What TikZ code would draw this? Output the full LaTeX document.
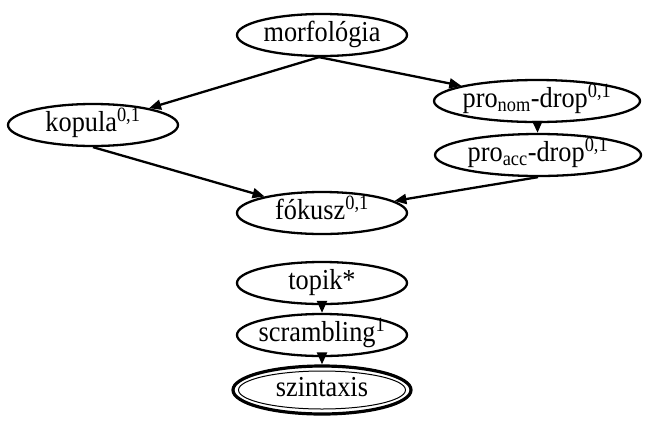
\documentclass[tikz,border=0pt]{standalone}
\usepackage{fontspec}
\usepackage{graphicx}
\setmainfont{Liberation Serif}
\usetikzlibrary{arrows.meta,shapes.geometric}
\newcommand{\tall}[1]{\makebox[0pt]{\raisebox{-6.5pt}[0pt][0pt]{\scalebox{1}[1.1]{#1}}}}
\begin{document}
\begin{tikzpicture}[x=1pt,y=-1pt,
  nd/.style={ellipse,draw,line width=2.3pt,inner sep=0pt,minimum width=170pt,minimum height=42pt,font=\fontsize{26.3}{26.3}\selectfont},
  wide/.style={minimum width=206pt},
  arr/.style={line width=2.3pt,-{Triangle[length=12pt,width=10pt]}}]
\useasboundingbox (0,0) rectangle (645,421);
\node[nd] (morf) at (322,35) {\tall{morfológia}};
\node[nd] (kop) at (93,125) {\tall{kopula\textsuperscript{0,1}}};
\node[nd,wide] (pnom) at (537,101) {\tall{pro\textsubscript{nom}-drop\textsuperscript{0,1}}};
\node[nd,wide] (pacc) at (538,155) {\tall{pro\textsubscript{acc}-drop\textsuperscript{0,1}}};
\node[nd] (fok) at (322,213) {\tall{fókusz\textsuperscript{0,1}}};
\node[nd] (top) at (322,283) {\tall{topik*}};
\node[nd] (scr) at (322,335) {\tall{scrambling\textsuperscript{1}}};
\node[nd,line width=3.2pt,minimum width=178pt,minimum height=48pt] (szi) at (322,390) {\tall{szintaxis}};
\node[ellipse,draw,line width=1pt,minimum width=167pt,minimum height=38pt] (szin) at (szi.center) {};
\coordinate (ms) at ([xshift=-3pt]morf.south);
\draw[arr] (ms) -- (kop);
\draw[arr] (ms) -- (pnom);
\draw[arr] (pnom) -- (pacc);
\draw[arr] (kop.south) -- (fok);
\coordinate (as) at ([xshift=0pt]pacc.south);
\draw[arr] (as) -- (fok);
\draw[arr] (top) -- (scr);
\draw[arr] (scr) -- (szi);
\end{tikzpicture}
\end{document}
